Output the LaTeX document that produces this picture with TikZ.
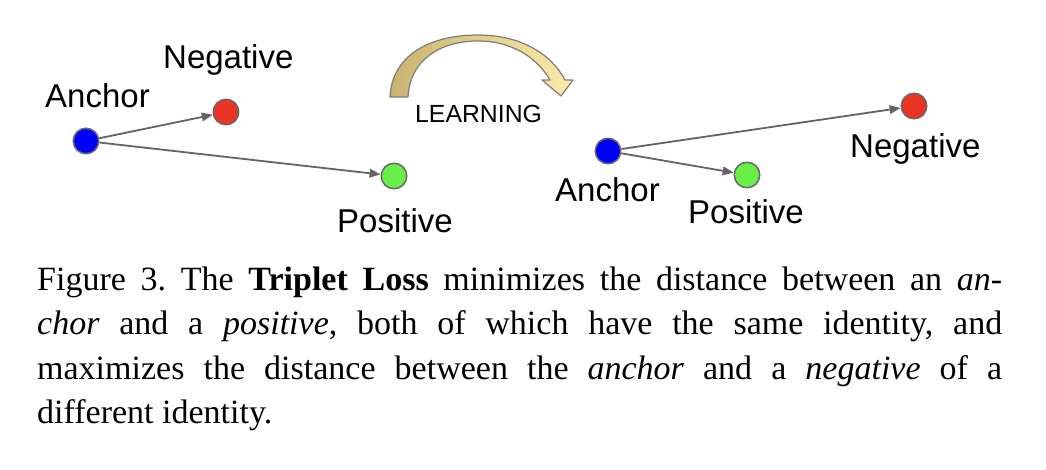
\documentclass[tikz,border=0pt]{standalone}
\usepackage{fontspec}
\setmainfont{Liberation Serif}
\newfontfamily\arialf{Liberation Sans}
\usetikzlibrary{arrows.meta}
\frenchspacing
\definecolor{ptblue}{RGB}{0,0,255}
\definecolor{ptred}{RGB}{234,51,35}
\definecolor{ptgreen}{RGB}{104,240,72}
\definecolor{ptrim}{RGB}{105,105,105}
\definecolor{edgegray}{RGB}{100,100,100}
\definecolor{arcdark}{RGB}{200,180,112}
\definecolor{arclight}{RGB}{252,234,168}
\definecolor{arcline}{RGB}{125,125,125}
\tikzset{
  pt/.style={circle,draw=ptrim,line width=1.5pt,minimum size=25.5pt,inner sep=0pt},
  lbl/.style={font=\arialf\fontsize{33}{38}\selectfont,anchor=base west,inner sep=0pt},
  conn/.style={draw=edgegray,line width=1.8pt,-{Triangle[length=11pt,width=8.5pt]}},
  capline/.style={font=\fontsize{34}{40}\selectfont,anchor=base west,inner sep=0pt}
}
\begin{document}
\frenchspacing
\begin{tikzpicture}[x=1pt,y=-1pt]
\useasboundingbox (0,0) rectangle (1046,470);
\fill[white] (0,0) rectangle (1046,470);
% left triplet
\node[pt,fill=ptblue] (a1) at (86,141) {};
\node[pt,fill=ptred] (n1) at (226,112) {};
\node[pt,fill=ptgreen] (p1) at (394,176) {};
\node[lbl] (la1) at (45,108) {Anchor};
\node[lbl] (ln1) at (163,69) {Negative};
\node[lbl] (lp1) at (337,233) {Positive};
\draw[conn] (a1) -- (n1);
\draw[conn] (a1) -- (p1);
% learning arrow
\shadedraw[left color=arcdark,right color=arclight,draw=arcline,line width=1.2pt,line join=round]
  (390,97) .. controls (392,55) and (430,35) .. (478,35)
  .. controls (522,35) and (552,55) .. (565,80)
  -- (573,80) -- (561,96) -- (542,80) -- (550,80)
  .. controls (536,56) and (510,41) .. (478,41)
  .. controls (440,41) and (410,60) .. (408,97) -- cycle;
\node[anchor=base west,inner sep=0pt,font=\arialf\fontsize{24.8}{28}\selectfont] (learn) at (415,123) {LEARNING};
% right triplet
\node[pt,fill=ptblue] (a2) at (608,151) {};
\node[pt,fill=ptgreen] (p2) at (747,175) {};
\node[pt,fill=ptred] (n2) at (914,106) {};
\node[lbl] (la2) at (555,202) {Anchor};
\node[lbl] (lp2) at (688,224) {Positive};
\node[lbl] (ln2) at (850,158) {Negative};
\draw[conn] (a2) -- (n2);
\draw[conn] (a2) -- (p2);
% caption
\node[capline] (c1) at (37,290) {\makebox[965pt][s]{Figure 3. The \textbf{Triplet Loss} minimizes the distance between an \textit{an-}}};
\node[capline] (c2) at (37,334.5) {\makebox[965pt][s]{\textit{chor} and a \textit{positive}, both of which have the same identity, and}};
\node[capline] (c3) at (37,379) {\makebox[965pt][s]{maximizes the distance between the \textit{anchor} and a \textit{negative} of a}};
\node[capline] (c4) at (37,423.5) {different identity.};
\end{tikzpicture}
\end{document}
